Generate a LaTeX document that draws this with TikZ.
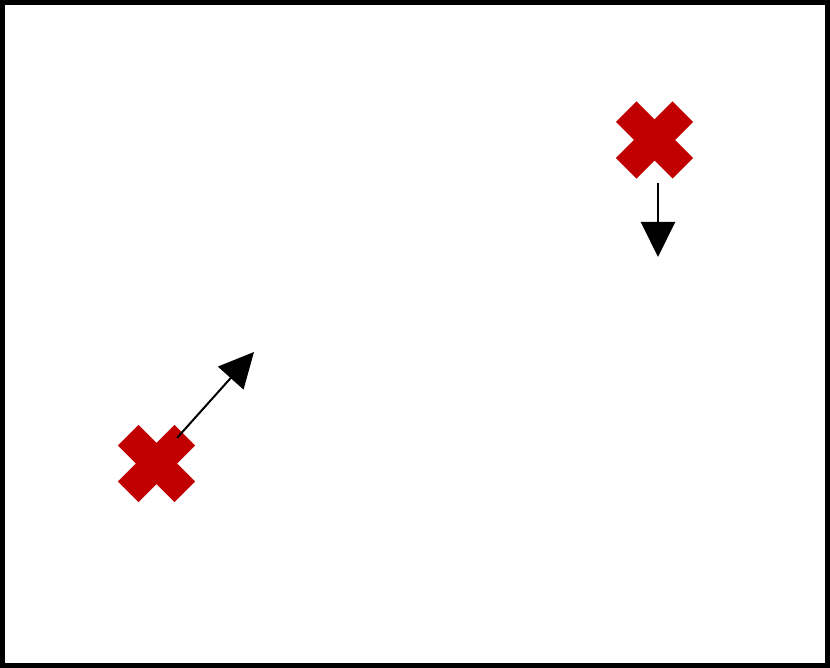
\documentclass[tikz,border=0pt]{standalone}
\usetikzlibrary{arrows.meta}
\definecolor{xred}{RGB}{192,0,0}
\tikzset{
  xmark/.style={rectangle, minimum size=77pt, inner sep=0pt, draw=none,
    path picture={
      \draw[xred, line width=29pt]
        ($(path picture bounding box.center)+(-28.3pt,-28.3pt)$) -- ($(path picture bounding box.center)+(28.3pt,28.3pt)$)
        ($(path picture bounding box.center)+(-28.3pt,28.3pt)$) -- ($(path picture bounding box.center)+(28.3pt,-28.3pt)$);
    }},
  motion/.style={line width=2pt, -{Triangle[length=35pt,width=34pt]}},
  frame/.style={line width=5pt, draw=black}
}
\usetikzlibrary{calc}
\begin{document}
\begin{tikzpicture}[x=1pt,y=-1pt]
  \useasboundingbox (0,0) rectangle (830,668);
  \draw[frame] (2.5,2.5) rectangle (827.5,665.5);
  \node[xmark] (xa) at (156.5,463.5) {};
  \node[xmark] (xb) at (654.5,140) {};
  \coordinate (ta) at (177,438);
  \coordinate (ha) at (254,352);
  \coordinate (tb) at (658,183);
  \coordinate (hb) at (658,257);
  \draw[motion] (ta) -- (ha);
  \draw[motion] (tb) -- (hb);
\end{tikzpicture}
\end{document}
